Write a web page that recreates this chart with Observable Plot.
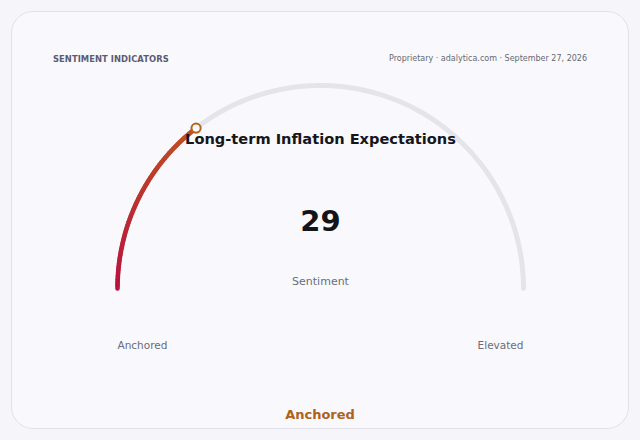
<!DOCTYPE html>
<html>
<head>
<meta charset="utf-8">
<script src="https://cdn.jsdelivr.net/npm/d3@7"></script>
<script src="https://cdn.jsdelivr.net/npm/@observablehq/plot@0.6"></script>
<style>
  html, body { margin: 0; padding: 0; background: #f6f6fa; }
  body { width: 640px; height: 440px; position: relative; overflow: hidden; font-family: "DejaVu Sans", sans-serif; }
  #card { position: absolute; left: 11px; top: 11px; width: 616px; height: 416px; border: 1px solid #e1e1ea; border-radius: 22px; background: #f9f9fd; }
  #kicker { position: absolute; left: 53px; top: 53.5px; font-size: 8.4px; font-weight: bold; letter-spacing: 0.05px; color: #5b5c72; }
  #source { position: absolute; right: 53px; top: 53.5px; font-size: 8px; color: #666873; }
  #chart { position: absolute; left: 0; top: 0; }
  #status { position: absolute; left: 0; width: 640px; top: 407px; text-align: center; font-size: 13px; font-weight: bold; color: #b0611c; }
</style>
</head>
<body>
<div id="card"></div>
<div id="kicker"></div>
<div id="source"></div>
<div id="chart"></div>
<div id="status"></div>
<script>
// ---- data ----
const kicker = "SENTIMENT INDICATORS";
const source = "Proprietary · adalytica.com · September 27, 2026";
const title = "Long-term Inflation Expectations";
const metricLabel = "Sentiment";
const gaugeMin = 0;
const gaugeMax = 100;
const value = 29;
const endLabels = ["Anchored", "Elevated"];
const statusLabel = "Anchored";
const gradientColors = ["#b8123f", "#c0521f"];

document.getElementById("kicker").textContent = kicker;
document.getElementById("source").textContent = source;
document.getElementById("status").textContent = statusLabel;

// gauge geometry in unit-radius coordinates
const W = 640, H = 440, R = 203, CX = 320, CY = 288;
const frac = (value - gaugeMin) / (gaugeMax - gaugeMin);
const pt = (t) => ({t, x: Math.cos(Math.PI * (1 - t)), y: Math.sin(Math.PI * (1 - t))});
const track = d3.range(0, 181).map(i => pt(i / 180));
const nSeg = 60;
const arcPts = d3.range(0, nSeg + 1).map(i => pt(frac * i / nSeg));
const segs = d3.pairs(arcPts).map(([a, b]) => ({x1: a.x, y1: a.y, x2: b.x, y2: b.y, t: a.t}));
const marker = [pt(frac)];

const chart = Plot.plot({
  width: W, height: H,
  margin: 0,
  style: {fontFamily: "DejaVu Sans, sans-serif", background: "transparent", overflow: "visible"},
  x: {domain: [-CX / R, (W - CX) / R], axis: null},
  y: {domain: [(CY - H) / R, CY / R], axis: null},
  color: {type: "linear", domain: [0, frac], range: gradientColors, interpolate: "rgb"},
  marks: [
    Plot.line(track, {x: "x", y: "y", stroke: "#e4e4eb", strokeWidth: 5, strokeLinecap: "round", curve: "linear"}),
    Plot.link(segs, {x1: "x1", y1: "y1", x2: "x2", y2: "y2", stroke: "t", strokeWidth: 4.5, strokeLinecap: "round"}),
    Plot.text([title], {x: 0, y: 0.735, text: d => d, fontSize: 14.6, fontWeight: "bold", fill: "#16161a", lineAnchor: "middle"}),
    Plot.dot(marker, {x: "x", y: "y", r: 4.6, stroke: "#b5641c", strokeWidth: 2, fill: "#fbfbfe"}),
    Plot.text([value], {x: 0, y: 0.330, text: d => String(d), fontSize: 29, fontWeight: "bold", fill: "#141418", lineAnchor: "middle"}),
    Plot.text([metricLabel], {x: 0, y: 0.034, text: d => d, fontSize: 11, fill: "#6b6c78", lineAnchor: "middle"}),
    Plot.text([endLabels[0]], {x: -1, y: -0.281, text: d => d, fontSize: 10.5, fill: "#6b6c78", textAnchor: "start", lineAnchor: "middle"}),
    Plot.text([endLabels[1]], {x: 1, y: -0.281, text: d => d, fontSize: 10.5, fill: "#6b6c78", textAnchor: "end", lineAnchor: "middle"})
  ]
});
document.getElementById("chart").appendChild(chart);
</script>
</body>
</html>
